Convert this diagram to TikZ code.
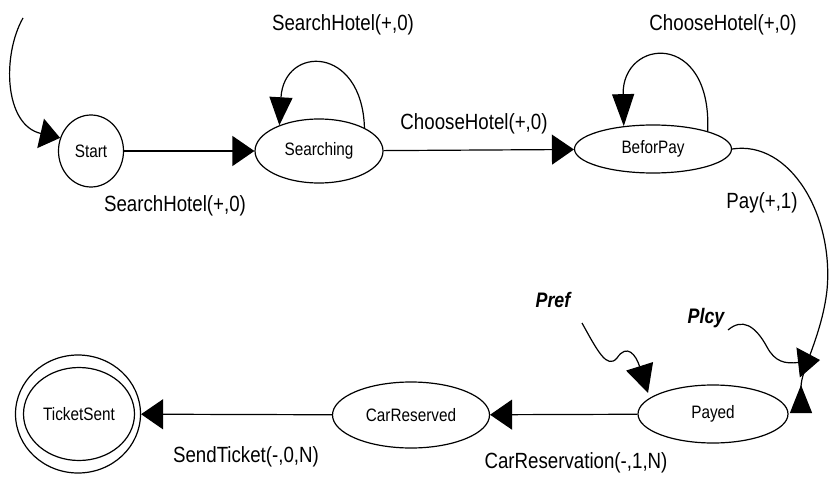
\documentclass[tikz,border=0pt]{standalone}
\usepackage{fontspec}
\setmainfont[FakeStretch=0.85]{Liberation Sans}
\usetikzlibrary{arrows.meta,shapes.geometric}
\begin{document}
\begin{tikzpicture}[x=1pt,y=-1pt,
  state/.style={draw, ellipse, line width=1.2pt, inner sep=0pt, font=\fontsize{18}{20}\selectfont},
  lbl/.style={inner sep=0pt, font=\fontsize{22}{24}\selectfont},
  ilbl/.style={inner sep=0pt, font=\fontsize{21}{23}\selectfont\bfseries\itshape},
  edge/.style={draw, line width=1.2pt},
  harrow/.style={-{Triangle[length=22pt,width=30pt]}},
  varrow/.style={-{Triangle[length=28pt,width=23pt]}},
]
\useasboundingbox (0,0) rectangle (829,481);

% states
\node[state, minimum width=65pt, minimum height=72pt] (start) at (91,151) {Start};
\node[state, minimum width=128pt, minimum height=64pt] (searching) at (319,151) {Searching};
\node[state, minimum width=157pt, minimum height=48pt] (beforpay) at (653,149) {BeforPay};
\node[state, minimum width=150pt, minimum height=58pt] (payed) at (713,414) {Payed};
\node[state, minimum width=157pt, minimum height=66pt] (carres) at (411,415) {CarReserved};
\node[state, minimum width=125pt, minimum height=118pt] (ts) at (78,414) {};
\node[state, minimum width=111pt, minimum height=93pt] (tsin) at (79,414) {TicketSent};

% labels
\node[lbl] (lsh1) at (343,25) {SearchHotel(+,0)};
\node[lbl] (lsh2) at (175,206) {SearchHotel(+,0)};
\node[lbl] (lch1) at (474,124) {ChooseHotel(+,0)};
\node[lbl] (lch2) at (723,25) {ChooseHotel(+,0)};
\node[lbl] (lpay) at (762,203) {Pay(+,1)};
\node[lbl] (lst) at (246,457) {SendTicket(-,0,N)};
\node[lbl] (lcr) at (576,463) {CarReservation(-,1,N)};
\node[ilbl] (pref) at (553,300) {Pref};
\node[ilbl] (plcy) at (706,318) {Plcy};

% free ends
\coordinate (init) at (23,18);
\coordinate (payend) at (801,413);
\coordinate (prefstart) at (582,323);
\coordinate (prefend) at (648,393);
\coordinate (plcystart) at (728,330);
\coordinate (plcyend) at (820,360);

% connectors
\draw[edge, -{Triangle[length=20pt,width=30pt]}] (init) .. controls (2,55) and (4,125) .. (start.157);
\draw[edge, harrow] (start) -- (searching);
\draw[edge, varrow] (searching.27) .. controls (362,45) and (284,45) .. (searching.147);
\draw[edge, harrow] (searching) -- (beforpay);
\draw[edge, -{Triangle[length=32pt,width=22pt]}] (beforpay.18) .. controls (712,30) and (622,38) .. (beforpay.142);
\draw[edge, -{Triangle[length=28pt,width=22pt,reversed]}] (beforpay.east) .. controls (790,140) and (834,215) .. (827,290) .. controls (822,335) and (801,370) .. (payend);
\draw[edge, harrow] (payed) -- (carres);
\draw[edge, harrow] (carres) -- (ts);
\draw[edge, -{Triangle[length=28pt,width=28pt]}] (prefstart) .. controls (597,350) and (607,370) .. (617,358) .. controls (627,343) and (636,355) .. (prefend);
\draw[edge, harrow] (plcystart) .. controls (742,318) and (755,325) .. (767,347) .. controls (775,362) and (785,364) .. (plcyend);
\end{tikzpicture}
\end{document}
